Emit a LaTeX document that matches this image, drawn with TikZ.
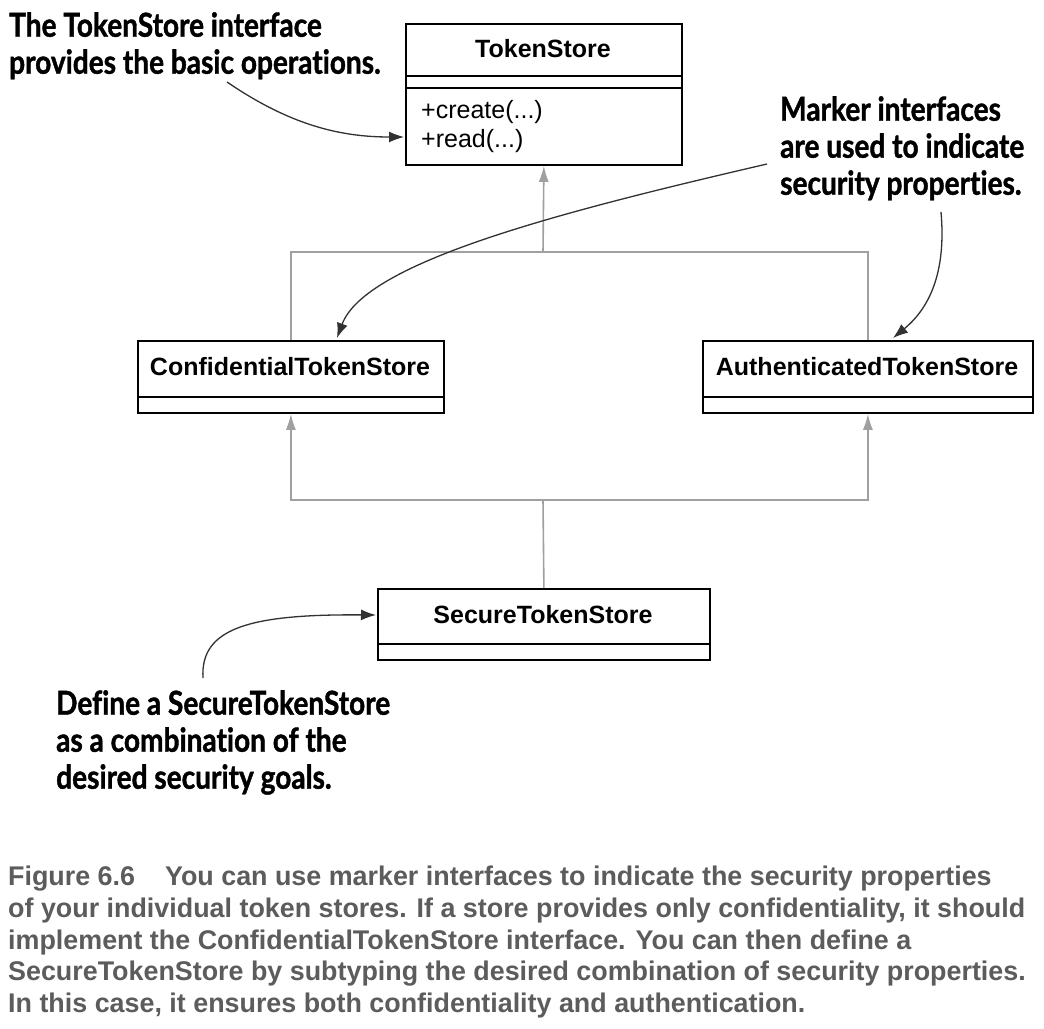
\documentclass[tikz,border=0pt]{standalone}
\usepackage{fontspec}
\setmainfont{Liberation Sans}
\newfontfamily\annfont[FakeStretch=0.85,Ligatures=NoCommon,FakeBold=1.2]{Lato}
\newfontfamily\capfont[FakeStretch=0.995]{Liberation Sans}
\usetikzlibrary{arrows.meta,calc}
\definecolor{genc}{RGB}{160,160,160}
\definecolor{annc}{RGB}{50,50,50}
\definecolor{capc}{RGB}{92,92,92}
\begin{document}
\begin{tikzpicture}[x=1pt,y=-1pt,
  umlbox/.style={draw=black,line width=1.8pt,fill=white,inner sep=0pt,anchor=north west},
  umlname/.style={font=\fontsize{25}{30}\selectfont\bfseries,inner sep=0pt},
  umlop/.style={font=\fontsize{25}{30}\selectfont,inner sep=0pt,anchor=west},
  divider/.style={line width=1.8pt},
  gen/.style={draw=genc,line width=1.6pt,-{Latex[length=16pt,width=10pt,fill=genc]}},
  genline/.style={draw=genc,line width=1.6pt},
  ann/.style={draw=annc,line width=1.3pt,-{Latex[length=15pt,width=11pt]}},
  annot/.style={font=\annfont\fontsize{33}{37}\selectfont\bfseries,align=left,inner sep=0pt,anchor=north west,text=black},
  caption/.style={font=\capfont\fontsize{27}{31.7}\selectfont\bfseries,align=left,inner sep=0pt,anchor=north west,text=capc}
]
\useasboundingbox (0,0) rectangle (1044,1028);
\fill[white] (0,0) rectangle (1044,1028);

% TokenStore
\node[umlbox,minimum width=276pt,minimum height=141pt] (ts) at (405,23) {};
\draw[divider] (405,76) -- (681,76);
\draw[divider] (405,88) -- (681,88);
\node[umlname] (tsname) at (543,49) {TokenStore};
\node[umlop] (tsop1) at (421,112) {+create(...)};
\node[umlop] (tsop2) at (421,141) {+read(...)};

% ConfidentialTokenStore
\node[umlbox,minimum width=306pt,minimum height=72pt] (cts) at (137,340) {};
\draw[divider] (137,397) -- (443,397);
\node[umlname] (ctsname) at (290,367) {ConfidentialTokenStore};

% AuthenticatedTokenStore
\node[umlbox,minimum width=330pt,minimum height=72pt] (ats) at (702,340) {};
\draw[divider] (702,397) -- (1032,397);
\node[umlname] (atsname) at (867,367) {AuthenticatedTokenStore};

% SecureTokenStore
\node[umlbox,minimum width=332pt,minimum height=71pt] (sts) at (377,588) {};
\draw[divider] (377,644) -- (709,644);
\node[umlname] (stsname) at (543,615) {SecureTokenStore};

% generalisation connectors
\coordinate (j1) at (543,252);
\coordinate (j2) at (543,500);
\draw[genline] (cts.north) |- (j1);
\draw[genline] (ats.north) |- (j1);
\draw[gen] (j1) -- (ts.south);
\draw[genline] (sts.north) -- (j2);
\draw[gen] (j2) -| (cts.south);
\draw[gen] (j2) -| (ats.south);

% annotations
\node[annot] (a1) at (9,12) {The TokenStore interface\\provides the basic operations.};
\node[annot] (a2) at (780,96) {Marker interfaces\\are used to indicate\\security properties.};
\node[annot] (a3) at (56,690) {Define a SecureTokenStore\\as a combination of the\\desired security goals.};

\coordinate (s1) at (227,82);
\coordinate (e1) at (404,137);
\draw[ann] (s1) .. controls (290,125) and (340,137) .. (e1);

\coordinate (s2) at (767,164);
\coordinate (e2) at (337,338);
\draw[ann] (s2) .. controls (560,212) and (365,262) .. (e2);

\coordinate (s3) at (941,212);
\coordinate (e3) at (893,338);
\draw[ann] (s3) .. controls (946,268) and (932,306) .. (e3);

\coordinate (s4) at (203,678);
\coordinate (e4) at (376,615);
\draw[ann] (s4) .. controls (200,628) and (250,614) .. (e4);

% caption
\node[caption] (cap) at (8,866) {Figure 6.6\hspace{30pt}You can use marker interfaces to indicate the security properties\\
of your individual token stores. If a store provides only confidentiality, it should\\
implement the ConfidentialTokenStore interface. You can then define a\\
SecureTokenStore by subtyping the desired combination of security properties.\\
In this case, it ensures both confidentiality and authentication.};
\end{tikzpicture}
\end{document}
